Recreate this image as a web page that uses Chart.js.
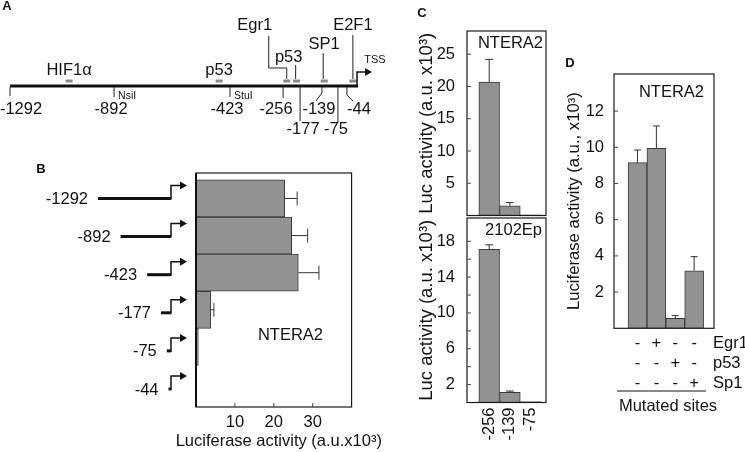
<!DOCTYPE html>
<html><head><meta charset="utf-8">
<script src="https://cdn.jsdelivr.net/npm/chart.js@4.4.1/dist/chart.umd.min.js"></script>
<style>
html,body{margin:0;padding:0;background:#fff;width:745px;height:452px;overflow:hidden}
canvas{position:absolute;left:0;top:0}
</style></head><body>
<canvas id="cA" width="745" height="452"></canvas>
<canvas id="cB" width="745" height="452"></canvas>
<canvas id="cC1" width="745" height="452"></canvas>
<canvas id="cC2" width="745" height="452"></canvas>
<canvas id="cD" width="745" height="452"></canvas>
<script>
// ---------------- DATA ----------------
// Panel A: promoter map (positions in bp relative to TSS)
const promoterPositions = [-1292, -892, -423, -256, -177, -139, -75, -44];
const promoterLabels = ['-1292', '-892', '-423', '-256', '-177', '-139', '-75', '-44'];
const enzymeNames = ['NsiI', 'StuI'];
const enzymePositions = [-892, -423];
const siteNames = ['HIF1\u03b1', 'p53', 'Egr1', 'p53', 'SP1', 'E2F1'];
const sitePositions = [-1065, -467, -239, -193, -130, -18];

// Panel B: deletion constructs in NTERA2
const deletionConstructs = ['-1292', '-892', '-423', '-177', '-75', '-44'];
const deletionActivity = [22.8, 24.6, 26.3, 3.8, 0.6, 0.15];
const deletionError = [3.2, 4.1, 5.3, 0.8, 0, 0];
const deletionTicks = [10, 20, 30];
const deletionAxisTitle = 'Luciferase activity (a.u.x10\u00b3)';

// Panel C
const cConstructs = ['-256', '-139', '-75'];
const nteraActivity = [20.7, 1.5, 0.1];
const nteraError = [3.5, 0.5, 0];
const nteraTicks = [5, 10, 15, 20, 25];
const ep2102Activity = [17.1, 1.14, 0.1];
const ep2102Error = [0.5, 0.14, 0];
const ep2102Ticks = [2, 4, 6, 8, 10, 12, 14, 16, 18];
const ep2102TickLabels = ['2', '', '6', '', '10', '', '14', '', '18'];

// Panel D: mutated sites
const mutRowNames = ['Egr1', 'p53', 'Sp1'];
const mutEgr1 = ['-', '+', '-', '-'];
const mutP53 = ['-', '-', '+', '-'];
const mutSp1 = ['-', '-', '-', '+'];
const mutActivity = [9.15, 9.94, 0.55, 3.18];
const mutError = [0.7, 1.24, 0.15, 0.78];
const mutTicks = [2, 4, 6, 8, 10, 12];

// ---------------- SETUP ----------------
const FONT = "'Liberation Sans', Arial, Helvetica, sans-serif";
Chart.defaults.font.family = FONT;
Chart.defaults.font.size = 16;
Chart.defaults.color = '#111';
Chart.defaults.animation = false;
Chart.defaults.responsive = false;
Chart.defaults.events = [];
Chart.defaults.plugins.legend.display = false;
Chart.defaults.plugins.tooltip.enabled = false;

// schematic (not-to-scale) axis used by the promoter map
const SCHEMATIC_BREAKS = [[-1292, 0], [-892, 0.300], [-423, 0.634], [-256, 0.787], [-177, 0.836],
  [-139, 0.899], [-75, 0.945], [-44, 0.971], [0, 1]];
class SchematicScale extends Chart.LinearScale {
  getPixelForValue(value) {
    const b = SCHEMATIC_BREAKS;
    let f = b[b.length - 1][1];
    if (value <= b[0][0]) f = b[0][1];
    else for (let i = 1; i < b.length; i++) {
      if (value <= b[i][0]) {
        const t = (value - b[i - 1][0]) / (b[i][0] - b[i - 1][0]);
        f = b[i - 1][1] + t * (b[i][1] - b[i - 1][1]);
        break;
      }
    }
    return this.getPixelForDecimal(f);
  }
}
SchematicScale.id = 'schematic';
SchematicScale.defaults = {};
Chart.register(SchematicScale);

function font(size, bold) { return (bold ? 'bold ' : '') + size + 'px ' + FONT; }
function text(ctx, s, x, y, size, align, bold) {
  ctx.font = font(size, bold); ctx.textAlign = align || 'center'; ctx.textBaseline = 'middle';
  ctx.fillStyle = '#111'; ctx.fillText(s, x, y);
}
function seg(ctx, pts, w, color) {
  ctx.beginPath(); ctx.lineWidth = w; ctx.strokeStyle = color || '#111';
  pts.forEach((p, i) => i ? ctx.lineTo(p[0], p[1]) : ctx.moveTo(p[0], p[1]));
  ctx.stroke();
}
function arrowHead(ctx, tipX, y, len, half) {
  ctx.beginPath(); ctx.fillStyle = '#111';
  ctx.moveTo(tipX, y); ctx.lineTo(tipX - len, y - half); ctx.lineTo(tipX - len, y + half); ctx.closePath(); ctx.fill();
}
function hiddenAxis(extra) {
  return Object.assign({
    display: true, offset: false,
    grid: { display: false, drawTicks: false }, border: { display: false }, ticks: { display: false },
    afterFit: s => { if (s.isHorizontal()) s.height = 0; else s.width = 0; }
  }, extra);
}
const fixedTicks = vals => s => { s.ticks = vals.map(v => ({ value: v })); };
const BAR = { backgroundColor: '#929292', borderColor: '#3a3a3a', borderWidth: 1, borderSkipped: false,
  barPercentage: 1, categoryPercentage: 1 };

const framePlugin = {
  id: 'frame',
  afterDraw(chart, args, o) {
    const { ctx, chartArea: a } = chart;
    ctx.save(); ctx.strokeStyle = '#1a1a1a'; ctx.lineWidth = 1.2;
    ctx.strokeRect(a.left, a.top, a.right - a.left, a.bottom - a.top);
    if (o.leftWidth) seg(ctx, [[a.left, a.top], [a.left, a.bottom]], o.leftWidth, '#111');
    ctx.restore();
  }
};
const innerTicks = {
  id: 'innerTicks',
  afterDraw(chart, args, o) {
    const { ctx, chartArea: a } = chart; const s = chart.scales[o.axis];
    ctx.save();
    s.ticks.forEach(t => {
      const p = s.getPixelForValue(t.value);
      if (o.axis === 'y') seg(ctx, [[a.left, p], [a.left + 4, p]], 1, '#444');
      else seg(ctx, [[p, a.bottom], [p, a.bottom - 4]], 1, '#444');
    });
    ctx.restore();
  }
};
const errorBars = {
  id: 'errorBars',
  afterDatasetsDraw(chart, args, o) {
    const ds = chart.data.datasets[0]; const errs = ds.errors; if (!errs) return;
    const meta = chart.getDatasetMeta(0);
    const horiz = chart.options.indexAxis === 'y';
    const vs = horiz ? chart.scales.x : chart.scales.y;
    const { ctx } = chart; const cap = o.cap || 4;
    ctx.save();
    meta.data.forEach((bar, i) => {
      const e = errs[i]; if (!e) return;
      const raw = ds.data[i]; const v = horiz ? raw.x : raw.y;
      const p = vs.getPixelForValue(v + e);
      if (horiz) {
        seg(ctx, [[bar.x, bar.y], [p, bar.y]], 1, '#333');
        seg(ctx, [[p, bar.y - cap], [p, bar.y + cap]], 1, '#333');
      } else {
        seg(ctx, [[bar.x, bar.y], [bar.x, p]], 1, '#333');
        seg(ctx, [[bar.x - cap, p], [bar.x + cap, p]], 1, '#333');
      }
    });
    ctx.restore();
  }
};
const cornerLabel = {
  id: 'cornerLabel',
  afterDraw(chart, args, o) {
    const a = chart.chartArea;
    text(chart.ctx, o.text, a.right - o.dx, a.top + o.dy, 16.5, 'right');
  }
};

// ---------------- PANEL A ----------------
const markStyle = [
  { len: 9, dx: 11, row: 0 }, { len: 10, dx: -3, row: 0 }, { len: 10, dx: -3, row: 0 },
  { len: 11, dx: -7, row: 0 }, { len: 34, dx: 3, row: 1 }, { len: 6, diag: -6, dx: -3, row: 0 },
  { len: 36, dx: -2, row: 1 }, { len: 8, diag: 6, dx: 12, row: 0 }
];
const siteStyle = [
  { ly: -16, ldx: 0 }, { ly: -16, ldx: 0 },
  { ly: -61, ldx: -32, lead: [[-18, -50], [-18, -18], [0, -18], [0, -7]] },
  { ly: -29, ldx: -8, lead: [[-1, -21], [-1, -7]] },
  { ly: -42, ldx: 0, lead: [[-1, -33], [-1, -7]] },
  { ly: -61, ldx: 0, lead: [[0, -51], [0, -7]] }
];
const mapPlugin = {
  id: 'promoterMap',
  afterDraw(chart) {
    const { ctx } = chart; const xs = v => chart.scales.x.getPixelForValue(v);
    const y0 = chart.scales.y.getPixelForValue(0);
    ctx.save();
    seg(ctx, [[xs(promoterPositions[0]), y0], [xs(0) + 1, y0]], 3, '#111');
    const tx = xs(0);
    seg(ctx, [[tx, y0], [tx, y0 - 14], [tx + 9, y0 - 14]], 1.5, '#111');
    arrowHead(ctx, tx + 15, y0 - 14, 7, 4);
    text(ctx, 'TSS', tx + 18, y0 - 26, 11);
    promoterPositions.forEach((p, i) => {
      const st = markStyle[i]; const x = xs(p);
      if (st.diag) seg(ctx, [[x, y0 + 1], [x, y0 + 1 + st.len], [x + st.diag, y0 + 15]], 1, '#222');
      else seg(ctx, [[x, y0 + 1], [x, y0 + 1 + st.len]], 1, '#222');
      text(ctx, promoterLabels[i], x + st.dx, y0 + (st.row ? 43 : 23), 16.5);
    });
    enzymePositions.forEach((p, i) => text(ctx, enzymeNames[i], xs(p) + 4, y0 + 10, 10.5, 'left'));
    sitePositions.forEach((p, i) => {
      const st = siteStyle[i]; const x = xs(p);
      text(ctx, siteNames[i], x + st.ldx, y0 + st.ly, 16.5);
      if (st.lead) seg(ctx, st.lead.map(q => [x + q[0], y0 + q[1]]), 1, '#222');
    });
    text(ctx, 'A', 7, 6, 13, 'center', true);
    text(ctx, 'B', 41, 169, 13, 'center', true);
    text(ctx, 'C', 422, 13, 13, 'center', true);
    text(ctx, 'D', 570, 63, 13, 'center', true);
    ctx.restore();
  }
};
new Chart(document.getElementById('cA'), {
  type: 'scatter',
  data: { datasets: [{ data: sitePositions.map(x => ({ x, y: 1 })), pointStyle: 'line', pointRadius: 3.5,
    borderWidth: 3, borderColor: '#8a8a8a', backgroundColor: '#8a8a8a' }] },
  options: {
    layout: { autoPadding: false, padding: { left: 10, top: 76, right: 388, bottom: 366 } },
    scales: {
      x: hiddenAxis({ type: 'schematic', min: -1292, max: 0 }),
      y: hiddenAxis({ type: 'linear', min: 0, max: 2 })
    }
  },
  plugins: [mapPlugin]
});

// ---------------- PANEL B ----------------
const constructPlugin = {
  id: 'constructs',
  afterDraw(chart) {
    const { ctx, chartArea: a } = chart; const ys = chart.scales.y;
    const ax = a.left - 25;
    ctx.save();
    deletionConstructs.forEach((lab, i) => {
      const y = ys.getPixelForValue(i) + i;
      const len = Math.abs(parseInt(lab, 10)) * 0.0565;
      const x0 = ax - len;
      seg(ctx, [[x0, y], [ax, y]], 3, '#111');
      seg(ctx, [[ax, y + 1], [ax, y - 13], [ax + 9, y - 13]], 1.5, '#111');
      arrowHead(ctx, ax + 16, y - 13, 7, 4);
      text(ctx, lab, x0 - 10, y + 1, 16.5, 'right');
    });
    text(ctx, 'NTERA2', 290.5, 335, 16.5);
    // axis title drawn without width compression
    text(ctx, deletionAxisTitle, (a.left + a.right) / 2 + 5, a.bottom + 34.5, 16.5);
    ctx.restore();
  }
};
new Chart(document.getElementById('cB'), {
  type: 'bar',
  data: { datasets: [Object.assign({ data: deletionActivity.map((v, i) => ({ x: v, y: i })), errors: deletionError }, BAR)] },
  options: {
    indexAxis: 'y',
    layout: { autoPadding: false, padding: { left: 196, top: 173, right: 393.4, bottom: 0 } },
    scales: {
      y: hiddenAxis({ type: 'linear', min: -0.687, max: 5.62, reverse: true, afterBuildTicks: fixedTicks([0, 1, 2, 3, 4, 5]) }),
      x: {
        type: 'linear', min: 0, max: 40, offset: false,
        afterBuildTicks: fixedTicks(deletionTicks),
        grid: { display: false, drawTicks: false }, border: { display: false },
        ticks: { padding: 6, font: { size: 16.5 } },
        afterFit: s => { s.height = 45; }
      }
    },
    plugins: { frame: { leftWidth: 2 }, innerTicks: { axis: 'x' }, errorBars: { cap: 7 } }
  },
  plugins: [framePlugin, innerTicks, errorBars, constructPlugin]
});

// ---------------- PANEL C ----------------
function cYAxis(max, ticks, labels) {
  return {
    type: 'linear', min: 0, max: max,
    afterBuildTicks: fixedTicks(ticks),
    grid: { display: false, drawTicks: false }, border: { display: false },
    ticks: { padding: 12, font: { size: 16.5 }, callback: v => labels ? labels[ticks.indexOf(v)] : String(v) },
    title: { display: true, text: 'Luc activity (a.u. x10\u00b3)', padding: 0, font: { size: 18.5 } },
    afterFit: s => { s.width = 51.1; }
  };
}
new Chart(document.getElementById('cC1'), {
  type: 'bar',
  data: { datasets: [Object.assign({ data: nteraActivity.map((v, i) => ({ x: i, y: v })), errors: nteraError }, BAR)] },
  options: {
    layout: { autoPadding: false, padding: { left: 415.9, top: 31, right: 199, bottom: 236.5 } },
    scales: {
      x: hiddenAxis({ type: 'linear', min: -1.072, max: 2.744, afterBuildTicks: fixedTicks([0, 1, 2]) }),
      y: cYAxis(28.6, nteraTicks, null)
    },
    plugins: { innerTicks: { axis: 'y' }, errorBars: { cap: 4 }, cornerLabel: { text: 'NTERA2', dx: 3, dy: 12 } }
  },
  plugins: [framePlugin, innerTicks, errorBars, cornerLabel]
});
new Chart(document.getElementById('cC2'), {
  type: 'bar',
  data: { datasets: [Object.assign({ data: ep2102Activity.map((v, i) => ({ x: i, y: v })), errors: ep2102Error }, BAR)] },
  options: {
    layout: { autoPadding: false, padding: { left: 415.9, top: 218, right: 199, bottom: 0 } },
    scales: {
      x: {
        type: 'linear', min: -1.072, max: 2.744, offset: false,
        afterBuildTicks: fixedTicks([0, 1, 2]),
        grid: { display: false, drawTicks: false }, border: { display: false },
        ticks: { padding: 5, autoSkip: false, minRotation: 90, maxRotation: 90, font: { size: 16.5 },
          callback: v => cConstructs[v] },
        afterFit: s => { s.height = 49.5; }
      },
      y: cYAxis(20.6, ep2102Ticks, ep2102TickLabels)
    },
    plugins: { innerTicks: { axis: 'y' }, errorBars: { cap: 4 }, cornerLabel: { text: '2102Ep', dx: 4, dy: 12 } }
  },
  plugins: [framePlugin, innerTicks, errorBars, cornerLabel]
});

// ---------------- PANEL D ----------------
const mutPlugin = {
  id: 'mutTable',
  afterDraw(chart) {
    const { ctx, chartArea: a } = chart; const xs = chart.scales.x;
    ctx.save();
    [mutEgr1, mutP53, mutSp1].forEach((row, r) => {
      const y = a.bottom + 14.7 + r * 20;
      row.forEach((s, i) => text(ctx, s, xs.getPixelForValue(i), y, 16.5));
      text(ctx, mutRowNames[r], a.right - 1, y, 16.5, 'left');
    });
    seg(ctx, [[a.left + 3, a.bottom + 62.7], [a.right - 8, a.bottom + 62.7]], 1, '#111');
    text(ctx, 'Mutated sites', (a.left + a.right) / 2 + 4, a.bottom + 78.4, 16.5);
    ctx.restore();
  }
};
new Chart(document.getElementById('cD'), {
  type: 'bar',
  data: { datasets: [Object.assign({ data: mutActivity.map((v, i) => ({ x: i, y: v })), errors: mutError }, BAR)] },
  options: {
    layout: { autoPadding: false, padding: { left: 563.9, top: 74, right: 31, bottom: 123.7 } },
    scales: {
      x: hiddenAxis({ type: 'linear', min: -1.243, max: 4.05, afterBuildTicks: fixedTicks([0, 1, 2, 3]) }),
      y: {
        type: 'linear', min: 0, max: 14.05,
        afterBuildTicks: fixedTicks(mutTicks),
        grid: { display: false, drawTicks: false }, border: { display: false },
        ticks: { padding: 10, font: { size: 16.5 } },
        title: { display: true, text: 'Luciferase activity (a.u., x10\u00b3)', padding: 0, font: { size: 16.7 } },
        afterFit: s => { s.width = 50.1; }
      }
    },
    plugins: { innerTicks: { axis: 'y' }, errorBars: { cap: 3.5 }, cornerLabel: { text: 'NTERA2', dx: 10, dy: 18 } }
  },
  plugins: [framePlugin, innerTicks, errorBars, cornerLabel, mutPlugin]
});
</script>
</body></html>
